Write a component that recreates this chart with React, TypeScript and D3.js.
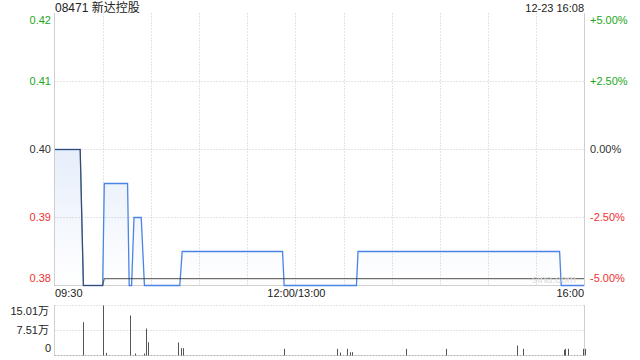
import React from "react";
import * as d3 from "d3";

const title = "08471 新达控股";
const stamp = "12-23 16:08";
const prevClose = 0.4;
const priceTicks = [0.42, 0.41, 0.4, 0.39, 0.38];
const timeLabels = ["09:30", "12:00/13:00", "16:00"];
const timeLabelMinutes = [0, 150, 330];

const priceMinutes = [0, 16, 18, 30, 31, 45.5, 46.5, 48, 49.5, 54, 56, 78, 79.5, 142, 143, 188, 189, 314.5, 315.5, 330];
const priceValues = [0.4, 0.4, 0.38, 0.38, 0.395, 0.395, 0.38, 0.38, 0.39, 0.39, 0.38, 0.38, 0.385, 0.385, 0.38, 0.38, 0.385, 0.385, 0.38, 0.38];

const avgMinutes = [0, 16, 18, 30, 31, 330];
const avgValues = [0.4, 0.4, 0.38, 0.38, 0.381, 0.381];

const volMinutes = [18, 30, 32, 47, 50, 56, 57, 58, 77, 79, 80, 143, 176, 178, 182, 184, 185, 219, 244, 288, 292, 317, 318, 320, 329, 330];
const volValues = [10.0, 15.01, 0.8, 12.0, 0.6, 0.6, 8.1, 4.0, 3.9, 2.2, 2.2, 2.0, 2.0, 0.9, 2.0, 1.0, 1.0, 2.0, 2.0, 3.0, 2.0, 1.7, 2.0, 2.0, 2.0, 2.0];
const volTicks = [15.01, 7.51, 0];

const FONT = "Arial, 'Liberation Sans', Helvetica, 'Noto Sans CJK SC', sans-serif";

export default function App() {
  const x = d3.scaleLinear().domain([0, 330]).range([54.5, 584.5]);
  const y = d3.scaleLinear().domain([0.38, 0.42]).range([285.5, 13.5]);
  const yv = d3.scaleLinear().domain([0, 15.01]).range([355.5, 305.5]);

  const pts = priceMinutes.map((m, i) => [m, priceValues[i]] as [number, number]);
  const avgPts = avgMinutes.map((m, i) => [m, avgValues[i]] as [number, number]);

  const line = d3.line<[number, number]>().x((d) => x(d[0])).y((d) => y(d[1]));
  const area = d3
    .area<[number, number]>()
    .x((d) => x(d[0]))
    .y0(y(0.38))
    .y1((d) => y(d[1]));

  const gridMinutes = d3.range(30, 330, 30);
  const gridPrices = [0.41, 0.4, 0.39];

  const colorFor = (v: number) => (v > prevClose + 1e-9 ? "#1aa81a" : v < prevClose - 1e-9 ? "#f03030" : "#333");
  const pct = (v: number) => {
    const p = ((v - prevClose) / prevClose) * 100;
    return (p > 0 ? "+" : "") + p.toFixed(2) + "%";
  };
  const labelY = (i: number, n: number, yy: number) => (i === 0 ? yy + 7 : i === n - 1 ? yy - 7 : yy);

  return (
    <svg width={640} height={360} style={{ position: "absolute", left: 0, top: 0 }} fontFamily={FONT}>
      <defs>
        <linearGradient id="fillg" gradientUnits="userSpaceOnUse" x1={0} y1={y(0.42)} x2={0} y2={y(0.38)}>
          <stop offset="0%" stopColor="#5088e0" stopOpacity={0.28} />
          <stop offset="100%" stopColor="#5088e0" stopOpacity={0.0} />
        </linearGradient>
      </defs>
      <rect x={0} y={0} width={640} height={360} fill="#fff" />

      <text x={55} y={12} fontSize={12} fill="#222">{title}</text>
      <text x={584} y={12} fontSize={11} fill="#222" textAnchor="end">{stamp}</text>

      {gridPrices.map((p) => (
        <line key={"gp" + p} x1={54.5} x2={584.5} y1={y(p)} y2={y(p)} stroke="#c8c8c8" strokeDasharray="1,2" />
      ))}
      {gridMinutes.map((m) => (
        <line key={"gm" + m} x1={Math.round(x(m)) + 0.5} x2={Math.round(x(m)) + 0.5} y1={13.5} y2={285.5} stroke="#c8c8c8" strokeDasharray="1,2" />
      ))}

      <path d={area(pts) || ""} fill="url(#fillg)" />
      <line x1={54.5} x2={584.5} y1={285.5} y2={285.5} stroke="#d0d0d0" />
      <path d={line(pts) || ""} fill="none" stroke="#4a84e4" strokeWidth={1.3} />
      <path d={line(avgPts) || ""} fill="none" stroke="#333" strokeOpacity={0.7} strokeWidth={1.2} />
      <line x1={54.5} x2={54.5} y1={13} y2={286} stroke="#cfcfcf" />
      <line x1={584.5} x2={584.5} y1={13} y2={286} stroke="#cfcfcf" />

      <text x={532} y={283} fontSize={11} fill="#dcdcdc">sina.com</text>

      {priceTicks.map((p, i) => (
        <g key={"pt" + p}>
          <text x={51} y={labelY(i, priceTicks.length, y(p))} dy="0.35em" fontSize={11} textAnchor="end" fill={colorFor(p)}>
            {p.toFixed(2)}
          </text>
          <text x={590} y={labelY(i, priceTicks.length, y(p))} dy="0.35em" fontSize={11} fill={colorFor(p)}>
            {pct(p)}
          </text>
        </g>
      ))}

      {timeLabels.map((t, i) => (
        <text
          key={t}
          x={i === 0 ? 55 : i === timeLabels.length - 1 ? 584 : x(timeLabelMinutes[i]) + 1}
          y={293}
          dy="0.35em"
          fontSize={11}
          fill="#222"
          textAnchor={i === 0 ? "start" : i === timeLabels.length - 1 ? "end" : "middle"}
        >
          {t}
        </text>
      ))}

      <line x1={54.5} x2={584.5} y1={yv(15.01)} y2={yv(15.01)} stroke="#c8c8c8" strokeDasharray="1,2" />
      <line x1={54.5} x2={584.5} y1={yv(7.505)} y2={yv(7.505)} stroke="#c8c8c8" strokeDasharray="1,2" />
      <line x1={54.5} x2={584.5} y1={yv(0)} y2={yv(0)} stroke="#b0b0b0" strokeDasharray="2,1" />
      <line x1={54.5} x2={54.5} y1={305} y2={356} stroke="#cfcfcf" />
      <line x1={584.5} x2={584.5} y1={305} y2={356} stroke="#cfcfcf" />
      {volMinutes.map((m, i) => (
        <line
          key={"v" + i}
          x1={Math.round(x(m)) + 0.5}
          x2={Math.round(x(m)) + 0.5}
          y1={yv(0)}
          y2={yv(volValues[i])}
          stroke="#555"
          strokeWidth={1}
        />
      ))}
      {volTicks.map((v, i) => (
        <text
          key={"vt" + i}
          x={v === 0 ? 51 : 49}
          y={labelY(i, volTicks.length, yv(v)) + (i === 0 ? -1 : 0)}
          dy="0.35em"
          fontSize={11}
          textAnchor="end"
          fill="#222"
        >
          {v === 0 ? "0" : v.toFixed(2) + "万"}
        </text>
      ))}
    </svg>
  );
}
